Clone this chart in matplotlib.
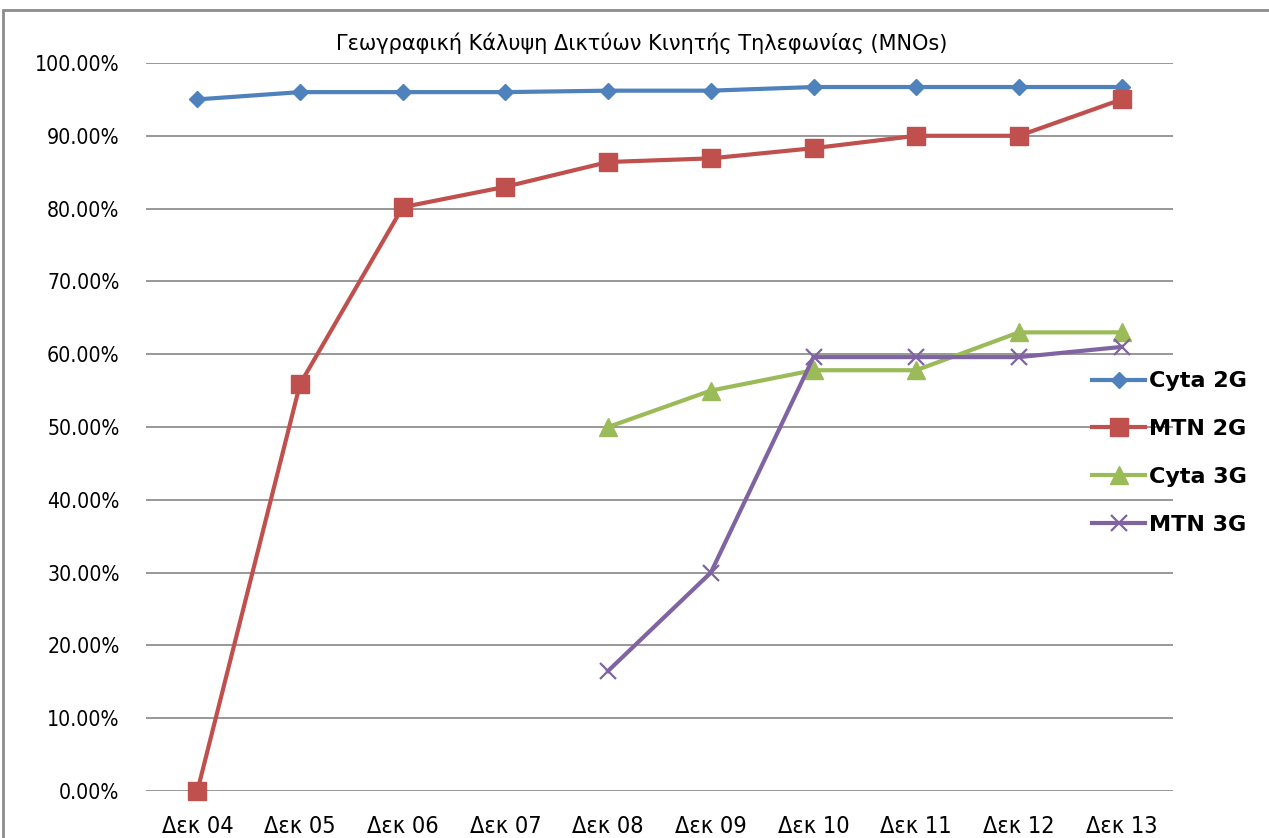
import matplotlib
matplotlib.use("Agg")
import matplotlib.pyplot as plt
from matplotlib import font_manager
from matplotlib.patches import Rectangle
from matplotlib.ticker import FuncFormatter, MultipleLocator

categories = ["Δεκ 04", "Δεκ 05", "Δεκ 06", "Δεκ 07", "Δεκ 08",
              "Δεκ 09", "Δεκ 10", "Δεκ 11", "Δεκ 12", "Δεκ 13"]
cyta_2g = [0.950, 0.960, 0.960, 0.960, 0.962, 0.962, 0.967, 0.967, 0.967, 0.967]
mtn_2g = [0.000, 0.559, 0.802, 0.830, 0.864, 0.869, 0.883, 0.900, 0.900, 0.950]
cyta_3g = [None, None, None, None, 0.500, 0.550, 0.578, 0.578, 0.630, 0.630]
mtn_3g = [None, None, None, None, 0.165, 0.300, 0.596, 0.596, 0.596, 0.610]

title = "Γεωγραφική Κάλυψη Δικτύων Κινητής Τηλεφωνίας (MNOs)"

plt.rcParams['font.family'] = ['DejaVu Sans']

# Prefer a condensed face for tick labels if one is installed
cond_file = None
for f in font_manager.fontManager.ttflist:
    if f.name == 'DejaVu Sans' and 'Condensed' in f.fname and f.weight in (400, 'normal') \
            and f.style == 'normal':
        cond_file = f.fname
        break
if cond_file:
    tick_font = dict(fname=cond_file)
    ysize, xsize = 15.2, 16.8
else:
    tick_font = dict(family='DejaVu Sans')
    ysize, xsize = 14, 14.5

W, H = 1269, 838
fig = plt.figure(figsize=(W / 100, H / 100), dpi=100)
ax = fig.add_axes([146 / W, 1 - 791 / H, (1173 - 146) / W, (791 - 63) / H])

x = list(range(len(categories)))

def pairs(vals):
    xs = [i for i, v in zip(x, vals) if v is not None]
    ys = [v for v in vals if v is not None]
    return xs, ys

series = [
    ("Cyta 2G", cyta_2g, "#4F81BD", "D", 8, 1.0),
    ("MTN 2G", mtn_2g, "#C0504D", "s", 13, 1.0),
    ("Cyta 3G", cyta_3g, "#9BBB59", "^", 13, 1.0),
    ("MTN 3G", mtn_3g, "#8064A2", "x", 12, 1.6),
]
for label, vals, col, mk, ms, mew in series:
    xs, ys = pairs(vals)
    ax.plot(xs, ys, color=col, lw=3, marker=mk, markersize=ms,
            markerfacecolor=col, markeredgecolor=col, markeredgewidth=mew,
            label=label, clip_on=False, zorder=3)

ax.set_xlim(-0.5, len(categories) - 0.5)
ax.set_ylim(0, 1.0)
ax.yaxis.set_major_locator(MultipleLocator(0.1))
ax.yaxis.set_major_formatter(FuncFormatter(lambda v, p: f"{v*100:.2f}%"))
ax.set_xticks(x)
ax.set_xticklabels(categories)
ax.tick_params(axis='both', length=0)
ax.tick_params(axis='y', pad=19)
ax.tick_params(axis='x', pad=17)
for lab in ax.get_yticklabels():
    lab.set_fontproperties(font_manager.FontProperties(size=ysize, **tick_font))
for lab in ax.get_xticklabels():
    lab.set_fontproperties(font_manager.FontProperties(size=xsize, **tick_font))
ax.grid(axis='y', color='#868686', lw=1.2)
ax.set_axisbelow(True)
for s in ax.spines.values():
    s.set_visible(False)

fig.text(642 / W, 1 - 43 / H, title, ha='center', va='center', fontsize=15)

leg = ax.legend(loc='center left', bbox_to_anchor=(1083 / W, 1 - 453 / H),
                bbox_transform=fig.transFigure, frameon=False,
                prop={'weight': 'bold', 'size': 16}, handlelength=2.4,
                handletextpad=0.15, labelspacing=1.25, borderaxespad=0)

fig.patches.append(Rectangle((3 / W, -0.05), 1.2, 1 - 10 / H + 0.05,
                             transform=fig.transFigure, fill=False,
                             edgecolor='#8C8C8C', lw=2))

fig.savefig("out.png", dpi=100)
